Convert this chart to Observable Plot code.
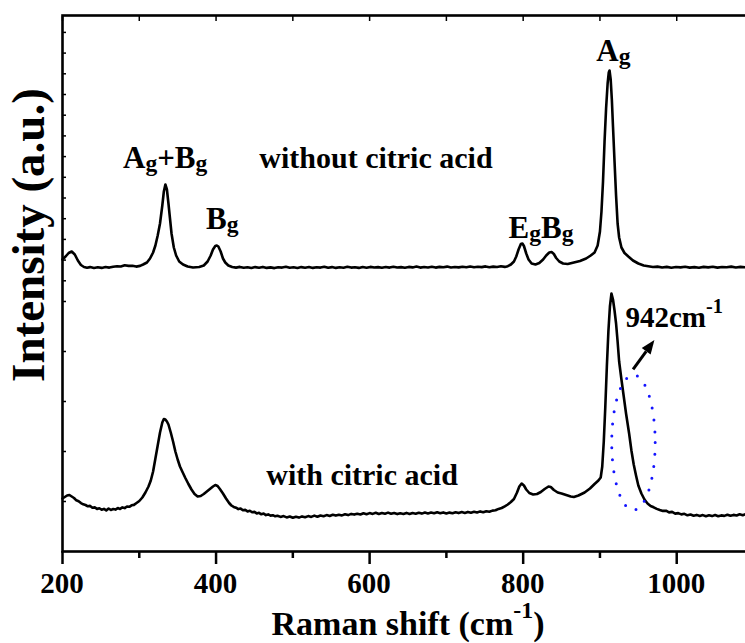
<!DOCTYPE html>
<html><head><meta charset="utf-8">
<script src="https://cdn.jsdelivr.net/npm/d3@7"></script>
<script src="https://cdn.jsdelivr.net/npm/@observablehq/plot@0.6"></script>
<style>
html,body{margin:0;padding:0;background:#fff;overflow:hidden}
svg{overflow:visible}
</style></head><body><div id="chart"></div>
<script>
// ---- spectrum without citric acid (upper trace): [Raman shift, intensity] ----
const spectrumTop = [[200,292],[204,295],[208,298.5],[212,300],[216,297],[220,291],[224,286.5],[228,284.5],[232,283.8],[236,284.4],[241,283.5],[246,284.2],[251,283.6],[256,284.5],[261,283.9],[266,284.8],[271,285.3],[276,285],[281,286.2],[286,285.6],[291,285.8],[296,284.9],[301,285.6],[305,287],[310,289],[314,293],[318,299],[321,306],[324,316],[327,328],[330,346],[332,360],[334,367],[336,362],[338,348],[340,333],[342,318],[345,304],[348,296],[352,290],[357,287],[363,285],[370,284],[378,284.5],[384,286],[389,290],[393,296],[396,302],[399,305.5],[401,306],[403,305],[406,300],[409,293],[412,289],[416,286],[421,284.5],
[426,283.9],[431,284.6],[436,283.7],[441,284.3],[446,283.5],[451,284.4],[456,283.8],[461,284.6],[466,283.6],[471,284.1],[476,283.4],[481,284.3],[486,283.9],[491,284.7],[496,283.7],[501,284.2],[506,283.5],[511,284.4],[516,283.8],[521,284.5],[526,283.6],[531,284.3],[536,283.9],[541,284.8],[546,283.7],[551,284.4],[556,283.6],[561,284.2],[566,283.8],[571,284.7],[576,283.9],[581,284.3],[586,283.6],[591,284.5],[596,283.8],[601,284.6],[606,284],[611,284.4],[616,283.7],[621,284.5],[626,283.9],[631,284.8],[636,284],[641,284.4],[646,283.8],[651,284.6],[656,284.1],[661,284.9],[666,283.9],[671,284.5],[676,284],[681,284.7],[686,283.9],[691,284.6],[696,284.2],[701,284.9],[706,284],[711,284.5],[716,284.1],[721,284.8],[726,284.3],[731,285],[736,284.2],[741,284.7],[746,284.4],[751,285.1],[756,284.3],[761,284.9],[766,284.5],[771,285.2],[776,284.6],[780,285.3],
[784,287],[788,290],[791,295],[794,302],[797,307.5],[799,308],[801,305.5],[804,298],[807,292],[811,288],[816,287],[821,288.5],[826,292],[830,296],[834,299],[837,299.5],[840,297.5],[843,293.5],[847,290],[852,288],[858,287.5],[866,289],[874,290.5],[882,293],[888,296],[893,299],[897,306],[900,320],[902,340],[904,370],[906,410],[908,443],[910,468],[911.5,479],[912.5,481],[914,472],[915.5,452],[917,425],[919,390],[921,356],[923,328],[925,314],[928,304],[932,298.5],[937,295],[943,291],[950,288],[957,286],
[963,285.2],[969,284.5],[975,284.9],[981,284],[987,284.6],[993,283.8],[999,284.5],[1005,284.1],[1011,284.7],[1017,283.9],[1023,284.4],[1029,283.8],[1035,284.6],[1041,284.1],[1047,284.8],[1053,283.9],[1059,284.5],[1065,284.2],[1071,284.9],[1077,284],[1083,284.6],[1089,284.3],[1095,284.5],[1100,284.2]];

// ---- spectrum with citric acid (lower trace): [Raman shift, intensity] ----
const spectrumBottom = [[200,53],[203,54.5],[206,56],[209,56.5],[212,55],[215,53.5],[218,51.2],[221,50.3],[224,48.4],[227,47.2],[230,46.5],[233,45.2],[236,45.6],[239,43.8],[242,44.1],[245,42.6],[248,43.3],[251,41.7],[254,42.6],[257,41.1],[260,43],[263,41.6],[266,42.4],[269,41.9],[272,43.4],[275,42.6],[278,44.1],[281,43.4],[284,45],[287,44.7],[290,46.2],[293,46.6],[296,48.3],[300,50.5],
[304,54],[308,59],[312,65],[315,71],[318,80],[321,93],[324,106],[327,119],[330,129],[332,132.5],[334,132],[336,130],[338,127],[341,119],[344,110],[347,100],[350,92],[353,85],[356,80],[360,73.5],[364,67.5],[368,62],[372,57.5],[376,55],[380,55.5],[384,57.5],[388,60],[392,62.5],[396,65],[399,66.5],[402,65.5],[405,62.5],[409,58],[413,53],[417,48.5],
[420,46],[423,44.6],[426,43.8],[429,42.4],[432,42.9],[435,41.2],[438,41.6],[441,40.1],[444,40.8],[447,39.2],[450,39.6],[453,38.1],[456,38.7],[459,37.2],[462,37.9],[465,36.4],[468,37.1],[471,35.9],[474,36.3],[477,35.2],[480,35.8],[484,34.6],[488,35.4],[492,34.1],[496,35],[500,33.7],[504,34.8],[508,33.9],[512,35.1],[516,34.3],[520,35.4],[524,34.6],[528,35.9],[532,34.8],[536,36],[540,35.2],[544,36.4],[548,35.5],[552,36.7],[556,35.9],[560,36.8],[564,36.1],[568,37.3],[572,36.4],[576,37.6],[580,36.9],[584,37.8],[588,37],[592,38.2],[596,37.3],[600,38.4],[604,37.6],[608,38.7],[612,37.5],[616,38.5],[620,37.8],[624,38.9],[628,37.7],[632,38.4],[636,37.4],[640,38.3],[644,37.6],[648,38.6],[652,37.5],[656,38.5],[660,37.8],[664,38.8],[668,37.9],[672,39],[676,38.1],[680,38.9],[684,38.2],[688,39.2],[692,38.3],[696,39.1],[700,38.1],[704,38.9],[708,38.3],[712,39.3],[716,38.4],[720,39.4],[724,38.6],[728,39.6],[732,38.8],[736,39.8],[740,39],[744,40.1],[748,39.2],[752,40.3],[756,39.8],[760,40.9],[764,41.2],[768,42.6],[772,43.5],[776,45.2],[780,47],[784,49.5],[788,52.5],
[792,59],[795,65],[798,68],[801,66],[804,62],[808,58.5],[813,57],[818,57.5],[823,59.5],[828,62.5],[833,65],[836,64.5],[840,61.5],[845,59],[850,58],[856,56.5],[862,55],[866,54.5],[872,56],[880,59],[887,63],[893,67.5],[898,71],[901,74],[903,85],[905,110],[907,145],[909,185],[911,220],[913,245],[915,258],[917,252],[919,241],[921,228],[923,210],[925,190],[928,172],[931,155],[934,138],[938,118],[941,101],[944,87],[947,76],[950,66],[954,58],[958,52],[962,48],
[966,45.5],[970,44.2],[974,42.6],[978,41.5],[982,40.6],[986,40.8],[990,39.1],[994,39.6],[998,37.9],[1002,38.4],[1006,37.1],[1010,37.7],[1014,36.2],[1018,37],[1022,35.8],[1026,36.6],[1030,35.5],[1034,36.4],[1038,35.2],[1042,36.2],[1046,35.4],[1050,36.5],[1054,35.3],[1058,36.1],[1062,35.6],[1066,36.8],[1070,35.7],[1074,36.6],[1078,36],[1082,37.2],[1086,36.3],[1090,37.5],[1094,36.6],[1098,37.4],[1100,37]];

// ---- axes ----
const xMajorTicks = [200, 400, 600, 800, 1000];
const xMinorTicks = [300, 500, 700, 900, 1100];
const yTicks = [50, 100, 150, 200, 250, 270.7, 291.4, 312.1, 332.8, 353.5, 374.2, 394.9, 415.6, 436.3, 457, 477.7, 498.4, 519.1];

// ---- annotations (text start, baseline) ----
const modeText = ["A_g+B_g", "B_g", "E_gB_g", "A_g"];
const modeShift = [279.5, 387.7, 781.7, 896];
const modeIntensity = [383, 322, 313, 490];
const sampleText = ["without citric acid", "with citric acid"];
const sampleShift = [457, 466];
const sampleIntensity = [383, 66];
const noteText = ["942cm^{-1}"];
const noteShift = [933.8];
const noteIntensity = [224];
const ellipseCenter = [944.3, 108.5];   // shift, intensity
const ellipseRadii = [28.3, 67.5];      // shift units, intensity units
const arrowFrom = [943.8, 181.7];
const arrowTo = [971.6, 211];

const FONT = "'Liberation Serif','Times New Roman',Times,serif";

const topData = spectrumTop.map(([s, v]) => ({shift: s, intensity: v}));
const bottomData = spectrumBottom.map(([s, v]) => ({shift: s, intensity: v}));

function addRich(g, str, x, y, size, anchor = "start") {
  const t = g.append("text").attr("x", x).attr("y", y)
    .style("font-size", size + "px").style("font-weight", "bold")
    .attr("text-anchor", anchor).attr("fill", "black");
  const parts = str.split(/(_.|\^\{[^}]*\})/).filter(s => s.length);
  let off = 0;
  for (const p of parts) {
    let txt = p, fs = size, target = 0;
    if (p[0] === "_") { txt = p.slice(1); fs = size * 0.76; target = size * 0.1; }
    else if (p[0] === "^") { txt = p.slice(2, -1); fs = size * 0.7; target = -size * 0.5; }
    t.append("tspan").style("font-size", fs + "px").attr("dy", target - off).text(txt);
    off = target;
  }
  return t;
}

function annotations(index, scales, values, dimensions) {
  const X = scales.x, Y = scales.y;
  const bottom = dimensions.height - dimensions.marginBottom;
  const g = d3.create("svg:g").attr("font-family", FONT);
  xMajorTicks.forEach(t => addRich(g, String(t), X(t), bottom + 42, 29, "middle"));
  modeText.forEach((s, i) => addRich(g, s, X(modeShift[i]), Y(modeIntensity[i]), 31));
  sampleText.forEach((s, i) => addRich(g, s, X(sampleShift[i]), Y(sampleIntensity[i]), 30));
  noteText.forEach((s, i) => addRich(g, s, X(noteShift[i]), Y(noteIntensity[i]), 29));
  const cx = X(ellipseCenter[0]), cy = Y(ellipseCenter[1]);
  const rx = Math.abs(X(ellipseCenter[0] + ellipseRadii[0]) - cx);
  const ry = Math.abs(Y(ellipseCenter[1] + ellipseRadii[1]) - cy);
  g.append("ellipse").attr("cx", cx).attr("cy", cy).attr("rx", rx).attr("ry", ry)
    .attr("fill", "none").attr("stroke", "#1414ff").attr("stroke-width", 3)
    .attr("stroke-linecap", "round").attr("stroke-dasharray", "0 12");
  const x1 = X(arrowFrom[0]), y1 = Y(arrowFrom[1]), x2 = X(arrowTo[0]), y2 = Y(arrowTo[1]);
  const a = Math.atan2(y2 - y1, x2 - x1), L = 14, W = 5.5;
  const bx = x2 - L * Math.cos(a), by = y2 - L * Math.sin(a);
  g.append("line").attr("x1", x1).attr("y1", y1).attr("x2", bx).attr("y2", by)
    .attr("stroke", "black").attr("stroke-width", 3);
  g.append("path").attr("d", `M${x2},${y2}L${bx + W * Math.sin(a)},${by - W * Math.cos(a)}L${bx - W * Math.sin(a)},${by + W * Math.cos(a)}Z`)
    .attr("fill", "black");
  g.append("text").attr("transform", "translate(44,235) rotate(-90)")
    .attr("text-anchor", "middle").style("font-size", "47px").style("font-weight", "bold")
    .text("Intensity (a.u.)");
  addRich(g, "Raman shift (cm^{-1})", 408, 635, 34, "middle");
  return g.node();
}

const chart = Plot.plot({
  width: 745,
  height: 643,
  marginLeft: 62,
  marginRight: -8,
  marginTop: 15,
  marginBottom: 92,
  x: {domain: [200, 1100]},
  y: {domain: [0, 536]},
  style: {fontFamily: FONT, background: "white", overflow: "visible", color: "black"},
  marks: [
    Plot.axisX(xMajorTicks, {anchor: "bottom", tickSize: 13, strokeWidth: 2.5, label: null, tickFormat: () => " "}),
    Plot.axisX(xMinorTicks, {anchor: "bottom", tickSize: 7, strokeWidth: 2.5, label: null, tickFormat: () => " "}),
    Plot.axisX([...xMajorTicks, ...xMinorTicks], {anchor: "top", tickSize: -5, strokeWidth: 1.5, label: null, tickFormat: () => " "}),
    Plot.axisY(yTicks, {anchor: "left", tickSize: -4, strokeWidth: 1.5, label: null, tickFormat: () => " "}),
    Plot.line(topData, {x: "shift", y: "intensity", stroke: "black", strokeWidth: 2.6, strokeLinejoin: "round"}),
    Plot.line(bottomData, {x: "shift", y: "intensity", stroke: "black", strokeWidth: 2.6, strokeLinejoin: "round"}),
    Plot.frame({stroke: "black", strokeWidth: 2.6}),
    annotations
  ]
});
document.getElementById("chart").appendChild(chart);
</script></body></html>
